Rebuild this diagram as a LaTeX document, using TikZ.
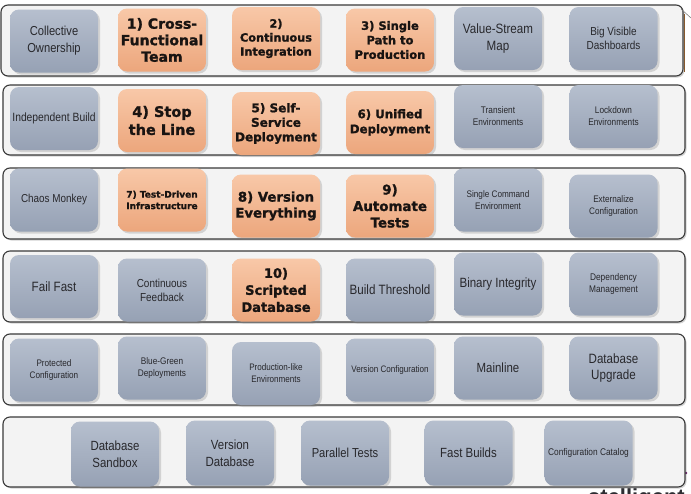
\documentclass[tikz,border=0pt]{standalone}
\usepackage{fontspec}
\usetikzlibrary{shadows}
\newfontfamily\narrowfont[FakeStretch=0.86]{Liberation Sans}
\newfontfamily\orangefont{DejaVu Sans Bold}[FakeBold=1.4]
\newfontfamily\logofont{Liberation Sans Bold}
\newcommand\myfs[2]{\fontsize{#1}{#2}\selectfont}
\newcommand\gf[2]{\narrowfont\myfs{#1}{#2}}
\newcommand\of[2]{\orangefont\myfs{#1}{#2}}
\definecolor{contfill}{RGB}{243,243,243}
\definecolor{contline}{RGB}{58,58,58}
\definecolor{gtop}{RGB}{182,191,206}
\definecolor{gbot}{RGB}{150,161,180}
\definecolor{gtext}{RGB}{40,40,44}
\definecolor{otop}{RGB}{248,200,168}
\definecolor{obot}{RGB}{236,166,124}
\definecolor{otext}{RGB}{25,20,18}
\definecolor{logotext}{RGB}{45,45,50}
\tikzset{
  cont/.style={draw=contline, line width=1.1pt, fill=contfill, rounded corners=7pt,
    drop shadow={shadow xshift=1.5pt, shadow yshift=-1.5pt, opacity=0.35}},
  boxbase/.style={rounded corners=9pt, minimum width=88pt, minimum height=63pt,
    align=center, inner sep=2pt,
    drop shadow={shadow xshift=2pt, shadow yshift=-2pt, opacity=0.28}},
  gbox/.style={boxbase, top color=gtop, bottom color=gbot, text=gtext},
  obox/.style={boxbase, top color=otop, bottom color=obot, text=otext},
}
\begin{document}
\begin{tikzpicture}[x=1pt,y=-1pt]
\useasboundingbox[fill=white] (0,0) rectangle (691,493);
% logo (partly hidden, as in the reference)
\node[anchor=base west, font=\logofont\myfs{22}{22}, text=logotext, inner sep=0] (logo) at (588,504) {stelligent};
\fill[violet!70!black] (686,473) circle (1.3pt);
% row containers
\draw[cont] (1,5) rectangle (683,76);
\draw[brown!70!black, line width=0.8pt] (684.5,14) -- (684.5,72);
\draw[gray, line width=0.6pt] (681,9) -- (691,18);
\draw[cont] (3,85) rectangle (685,155);
\draw[cont] (3,168) rectangle (685,239);
\draw[cont] (3,251) rectangle (685,322);
\draw[cont] (3,334) rectangle (685,405);
\draw[cont] (3,417) rectangle (685,487);
% row 1
\node[gbox, font=\gf{13}{17}] (a1) at (54,41) {Collective\\Ownership};
\node[obox, font=\of{14}{16.5}] (a2) at (162,40) {1) Cross-\\Functional\\Team};
\node[obox, font=\of{11.3}{14}] (a3) at (276,38.5) {2)\\Continuous\\Integration};
\node[obox, font=\of{11.5}{14.5}] (a4) at (390,40) {3) Single\\Path to\\Production};
\node[gbox, font=\gf{13.5}{17}] (a5) at (498,38.5) {Value-Stream\\Map};
\node[gbox, font=\gf{11.6}{14.5}] (a6) at (613.5,38.5) {Big Visible\\Dashboards};
% row 2
\node[gbox, font=\gf{12}{14}] (b1) at (54,118.5) {Independent Build};
\node[obox, font=\of{14.5}{18}] (b2) at (162,120.5) {4) Stop\\the Line};
\node[obox, font=\of{12}{14.5}] (b3) at (276,123.5) {5) Self-\\Service\\Deployment};
\node[obox, font=\of{11.8}{15}] (b4) at (390,122.5) {6) Unified\\Deployment};
\node[gbox, font=\gf{9.6}{12}] (b5) at (498,116.5) {Transient\\Environments};
\node[gbox, font=\gf{9.6}{12}] (b6) at (613.5,116.5) {Lockdown\\Environments};
% row 3
\node[gbox, font=\gf{11.5}{14}] (c1) at (54,200) {Chaos Monkey};
\node[obox, font=\of{9}{11.5}] (c2) at (162,200) {7) Test-Driven\\Infrastructure};
\node[obox, font=\of{13.3}{16}] (c3) at (276,206) {8) Version\\Everything};
\node[obox, font=\of{13.4}{16.5}] (c4) at (390,206) {9)\\Automate\\Tests};
\node[gbox, font=\gf{9.5}{12}] (c5) at (498,200) {Single Command\\Environment};
\node[gbox, font=\gf{9.5}{12}] (c6) at (613.5,206) {Externalize\\Configuration};
% row 4
\node[gbox, font=\gf{13.5}{16}] (d1) at (54,286.5) {Fail Fast};
\node[gbox, font=\gf{11.6}{14}] (d2) at (162,290) {Continuous\\Feedback};
\node[obox, font=\of{13}{17}] (d3) at (276,290) {10)\\Scripted\\Database};
\node[gbox, font=\gf{13.5}{16}] (d4) at (390,290) {Build Threshold};
\node[gbox, font=\gf{13.4}{16}] (d5) at (498,284) {Binary Integrity};
\node[gbox, font=\gf{9.7}{12}] (d6) at (613.5,284) {Dependency\\Management};
% row 5
\node[gbox, font=\gf{9.5}{12}] (e1) at (54,370) {Protected\\Configuration};
\node[gbox, font=\gf{9.6}{12}] (e2) at (162,368) {Blue-Green\\Deployments};
\node[gbox, font=\gf{9.4}{12}] (e3) at (276,373.5) {Production-like\\Environments};
\node[gbox, font=\gf{9.4}{12}] (e4) at (390,370) {Version Configuration};
\node[gbox, font=\gf{13.3}{16}] (e5) at (498,368) {Mainline};
\node[gbox, font=\gf{13.5}{16.5}] (e6) at (613.5,368) {Database\\Upgrade};
% row 6
\node[gbox, font=\gf{13.3}{16.5}, minimum height=65pt] (f1) at (115,454) {Database\\Sandbox};
\node[gbox, font=\gf{13.3}{16.5}, minimum height=65pt] (f2) at (230,453) {Version\\Database};
\node[gbox, font=\gf{13}{16}, minimum height=65pt] (f3) at (345,453) {Parallel Tests};
\node[gbox, font=\gf{13.3}{16}, minimum height=65pt] (f4) at (468.5,453) {Fast Builds};
\node[gbox, font=\gf{9.7}{12}, minimum height=65pt] (f5) at (588.5,453) {Configuration Catalog};
\end{tikzpicture}
\end{document}
